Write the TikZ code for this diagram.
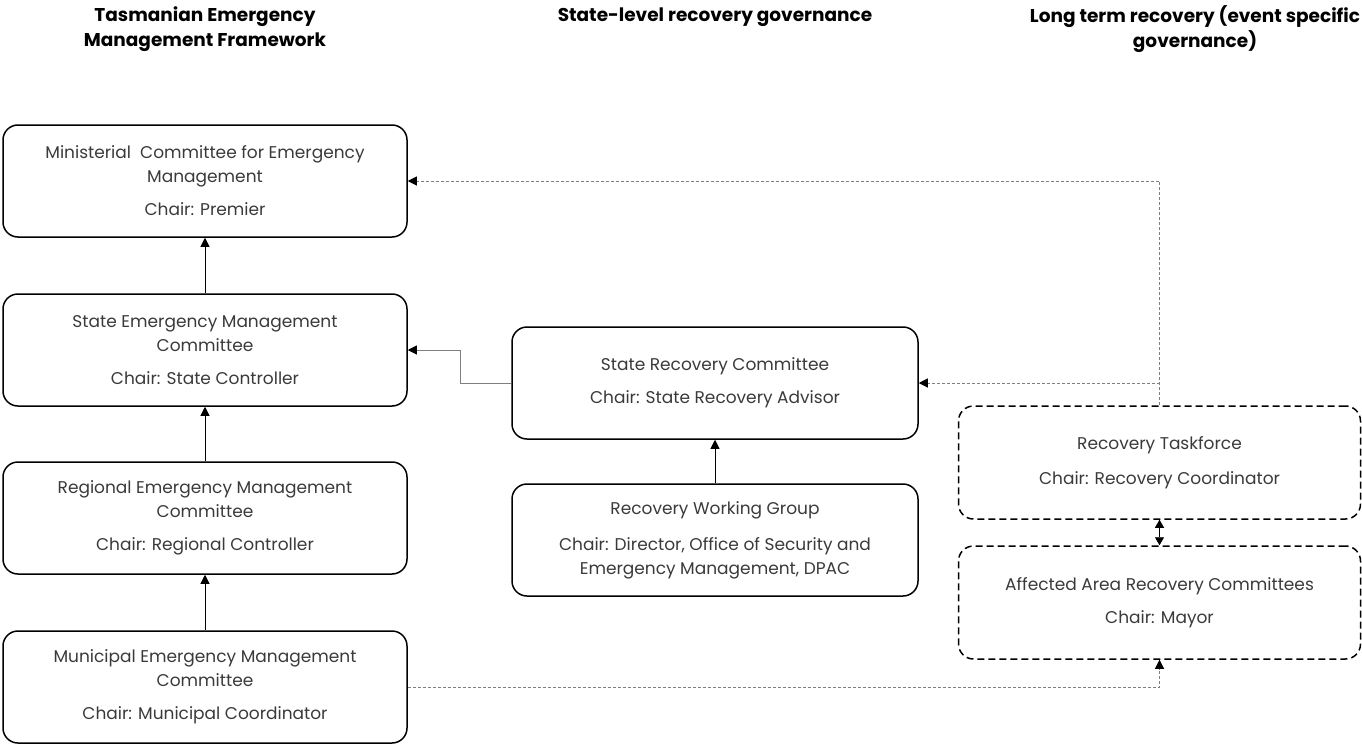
\documentclass[tikz,border=0pt]{standalone}
\usepackage{fontspec}
\setmainfont{Poppins}
\usetikzlibrary{arrows.meta}
\definecolor{textgray}{HTML}{3A3A3A}
\definecolor{linegray}{HTML}{7F7F7F}
\begin{document}
\begin{tikzpicture}[x=1pt,y=-1pt,
  box/.style={draw=black, line width=1.5pt, rounded corners=15pt, minimum width=404pt, minimum height=112pt, align=center, text=textgray, font=\fontsize{17}{24}\selectfont, inner sep=0pt},
  dbox/.style={box, dash pattern=on 7pt off 4pt},
  head/.style={font=\bfseries\fontsize{18.5}{25}\selectfont, align=center, text=black},
  conn/.style={line width=0.9pt, -{Triangle[length=9pt,width=9pt]}},
  dconn/.style={draw=linegray, line width=1pt, dash pattern=on 3pt off 2pt, -{Triangle[length=9pt,width=9pt,color=black]}}
]
\useasboundingbox (0,0) rectangle (1362,744);

% headers
\node[head] (h1) at (205,29) {Tasmanian Emergency\\Management Framework};
\node[head] (h2) at (715,17) {State-level recovery governance};
\node[head] (h3) at (1195,29) {Long term recovery (event specific\\governance)};

% left column
\node[box] (b1) at (205,181) {Ministerial\ \ Committee for Emergency\\Management\\[9pt]Chair: Premier};
\node[box] (b2) at (205,350) {State Emergency Management\\Committee\\[9pt]Chair: State Controller};
\node[box] (b3) at (205,518) {Regional Emergency Management\\Committee\\[9pt]Chair: Regional Controller};
\node[box] (b4) at (205,687) {Municipal Emergency Management\\Committee\\[9pt]Chair: Municipal Coordinator};

% middle column
\node[box, minimum width=406pt] (b5) at (715,383) {State Recovery Committee\\[9pt]Chair: State Recovery Advisor};
\node[box, minimum width=406pt] (b6) at (715,540) {Recovery Working Group\\[12pt]Chair: Director, Office of Security and\\Emergency Management, DPAC};

% right column
\node[dbox, minimum width=402pt, minimum height=113pt] (b7) at (1159.5,462.5) {Recovery Taskforce\\[11pt]Chair: Recovery Coordinator};
\node[dbox, minimum width=402pt, minimum height=113pt] (b8) at (1159.5,602.5) {Affected Area Recovery Committees\\[9pt]Chair: Mayor};

% solid connectors
\draw[conn] (b2.north) -- (b1.south);
\draw[conn] (b3.north) -- (b2.south);
\draw[conn] (b4.north) -- (b3.south);
\draw[conn] (b6.north) -- (b5.south);
\draw[conn, draw=linegray, -{Triangle[length=9pt,width=9pt,color=black]}] (b5.west) -- ++(-51,0) |- (b2.east);

% dashed connectors
\coordinate (j) at (b5.east -| b7.north);
\draw[dconn] (b7.north) |- (b1.east);
\draw[dconn] (j) -- (b5.east);
\draw[dconn] (b4.east) -| (b8.south);
\draw[line width=0.9pt, {Triangle[length=8pt,width=9pt]}-{Triangle[length=8pt,width=9pt]}] (b7.south) -- (b8.north);
\end{tikzpicture}
\end{document}
